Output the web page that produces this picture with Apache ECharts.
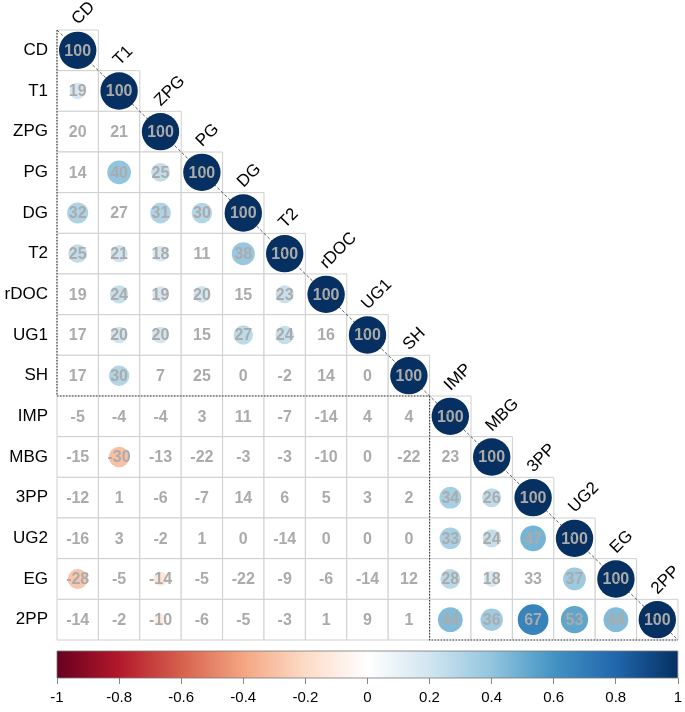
<!DOCTYPE html>
<html>
<head>
<meta charset="utf-8">
<script src="https://cdn.jsdelivr.net/npm/echarts@6/dist/echarts.min.js"></script>
<style>html,body{margin:0;padding:0;background:#fff}#c{width:685px;height:712px}</style>
</head>
<body>
<div id="c"></div>
<script>
// Variables (row / column order)
var variables = ['CD','T1','ZPG','PG','DG','T2','rDOC','UG1','SH','IMP','MBG','3PP','UG2','EG','2PP'];

// Lower-triangle correlation values (x100), row i has i entries (cols 0..i-1)
var rowT1   = [19];
var rowZPG  = [20, 21];
var rowPG   = [14, 40, 25];
var rowDG   = [32, 27, 31, 30];
var rowT2   = [25, 21, 18, 11, 38];
var rowrDOC = [19, 24, 19, 20, 15, 23];
var rowUG1  = [17, 20, 20, 15, 27, 24, 16];
var rowSH   = [17, 30, 7, 25, 0, -2, 14, 0];
var rowIMP  = [-5, -4, -4, 3, 11, -7, -14, 4, 4];
var rowMBG  = [-15, -30, -13, -22, -3, -3, -10, 0, -22, 23];
var row3PP  = [-12, 1, -6, -7, 14, 6, 5, 3, 2, 34, 26];
var rowUG2  = [-16, 3, -2, 1, 0, -14, 0, 0, 0, 33, 24, 47];
var rowEG   = [-28, -5, -14, -5, -22, -9, -6, -14, 12, 28, 18, 33, 37];
var row2PP  = [-14, -2, -10, -6, -5, -3, 1, 9, 1, 44, 36, 67, 53, 44];

// Significance flags (1 = circle drawn)
var sigT1   = [1];
var sigZPG  = [0, 0];
var sigPG   = [0, 1, 1];
var sigDG   = [1, 0, 1, 1];
var sigT2   = [1, 1, 1, 0, 1];
var sigrDOC = [0, 1, 1, 1, 0, 1];
var sigUG1  = [0, 1, 1, 0, 1, 1, 0];
var sigSH   = [0, 1, 0, 0, 0, 0, 0, 0];
var sigIMP  = [0, 0, 0, 0, 0, 0, 0, 0, 0];
var sigMBG  = [0, 1, 0, 0, 0, 0, 0, 0, 0, 0];
var sig3PP  = [0, 0, 0, 0, 0, 0, 0, 0, 0, 1, 1];
var sigUG2  = [0, 0, 0, 0, 0, 0, 0, 0, 0, 1, 1, 1];
var sigEG   = [1, 0, 1, 0, 0, 0, 0, 0, 0, 1, 1, 0, 1];
var sig2PP  = [0, 0, 1, 0, 0, 0, 0, 0, 0, 1, 1, 1, 1, 1];

var diagValue = 100;

// Cluster sizes (hierarchical clustering rectangles)
var clusterSizes = [9, 6];

// Colour bar ticks
var colorTicks = [-1, -0.8, -0.6, -0.4, -0.2, 0, 0.2, 0.4, 0.6, 0.8, 1];
var palette = ['#67001F','#B2182B','#D6604D','#F4A582','#FDDBC7','#FFFFFF','#D1E5F0','#92C5DE','#4393C3','#2166AC','#053061'];

var rows = [[], rowT1, rowZPG, rowPG, rowDG, rowT2, rowrDOC, rowUG1, rowSH, rowIMP, rowMBG, row3PP, rowUG2, rowEG, row2PP];
var sigs = [[], sigT1, sigZPG, sigPG, sigDG, sigT2, sigrDOC, sigUG1, sigSH, sigIMP, sigMBG, sig3PP, sigUG2, sigEG, sig2PP];

function hex2rgb(h){return [parseInt(h.substr(1,2),16),parseInt(h.substr(3,2),16),parseInt(h.substr(5,2),16)];}
function colorOf(r){
  var t = (r + 1) / 2 * (palette.length - 1);
  var i = Math.min(Math.floor(t), palette.length - 2);
  var f = t - i;
  var a = hex2rgb(palette[i]), b = hex2rgb(palette[i+1]);
  var c = a.map(function(v,k){return Math.round(v + (b[k]-v)*f);});
  return 'rgb(' + c.join(',') + ')';
}

var cellData = [], circleData = [], textData = [];
for (var i = 0; i < variables.length; i++) {
  for (var j = 0; j <= i; j++) {
    var v = (i === j) ? diagValue : rows[i][j];
    var s = (i === j) ? 1 : sigs[i][j];
    cellData.push([j, i]);
    textData.push([j, i, v]);
    if (s) circleData.push([j, i, v]);
  }
}
var labelData = variables.map(function(n, k){ return [k, k, n]; });

var chart = echarts.init(document.getElementById('c'), null, {renderer: 'canvas'});

function cellBox(api, x, y){
  var p = api.coord([x, y]);
  var s = api.size([1, 1]);
  return {cx: p[0], cy: p[1], w: s[0], h: s[1]};
}

var option = {
  animation: false,
  backgroundColor: '#fff',
  grid: [
    {left: 57, top: 30, width: 621, height: 610},
    {left: 57, top: 651, width: 622, height: 27}
  ],
  xAxis: [
    {type: 'category', data: variables, gridIndex: 0, show: false},
    {type: 'value', gridIndex: 1, min: -1, max: 1, interval: 0.2,
     axisLine: {show: false}, splitLine: {show: false},
     axisTick: {show: true, length: 6, lineStyle: {color: '#888'}},
     axisLabel: {color: '#000', fontSize: 15, margin: 12, fontFamily: 'Liberation Sans, Arial, sans-serif'}}
  ],
  yAxis: [
    {type: 'category', data: variables, gridIndex: 0, inverse: true,
     axisLine: {show: false}, axisTick: {show: false},
     axisLabel: {color: '#000', fontSize: 17, margin: 9, fontFamily: 'Liberation Sans, Arial, sans-serif'}},
    {type: 'value', gridIndex: 1, min: 0, max: 1, show: false}
  ],
  series: [
    {
      type: 'custom', xAxisIndex: 0, yAxisIndex: 0, data: cellData, z: 1,
      renderItem: function(params, api){
        var b = cellBox(api, api.value(0), api.value(1));
        return {type: 'rect', shape: {x: b.cx - b.w/2, y: b.cy - b.h/2, width: b.w, height: b.h},
          style: {fill: '#fff', stroke: '#cfcfcf', lineWidth: 1}};
      }
    },
    {
      type: 'custom', xAxisIndex: 0, yAxisIndex: 0, data: circleData, z: 2,
      renderItem: function(params, api){
        var b = cellBox(api, api.value(0), api.value(1));
        var v = api.value(2) / 100;
        var r = Math.sqrt(Math.abs(v)) * 0.46 * Math.min(b.w, b.h);
        return {type: 'circle', shape: {cx: b.cx, cy: b.cy, r: r}, style: {fill: colorOf(v)}};
      }
    },
    {
      type: 'custom', xAxisIndex: 0, yAxisIndex: 0, data: textData, z: 3,
      renderItem: function(params, api){
        var b = cellBox(api, api.value(0), api.value(1));
        return {type: 'text', x: b.cx, y: b.cy + 1, style: {text: String(api.value(2)), fill: '#ababab',
          font: 'bold 16px "Liberation Sans", Arial, sans-serif', align: 'center', verticalAlign: 'middle'}};
      }
    },
    {
      type: 'custom', xAxisIndex: 0, yAxisIndex: 0, data: labelData, z: 3,
      renderItem: function(params, api){
        var b = cellBox(api, api.value(0), api.value(1));
        return {type: 'text', x: b.cx + 3, y: b.cy - b.h/2 - 2, rotation: Math.PI/4,
          style: {text: variables[api.value(0)], fill: '#000', font: '17px "Liberation Sans", Arial, sans-serif',
            align: 'left', verticalAlign: 'bottom'}};
      }
    },
    {
      type: 'custom', xAxisIndex: 0, yAxisIndex: 0, data: [[0, variables.length - 1]], z: 4,
      renderItem: function(params, api){
        var a = cellBox(api, 0, 0);
        var e = cellBox(api, api.value(1), api.value(1));
        return {type: 'line', shape: {x1: a.cx - a.w/2, y1: a.cy - a.h/2, x2: e.cx + e.w/2, y2: e.cy + e.h/2},
          style: {stroke: '#333', lineWidth: 0.8, lineDash: [3, 2]}};
      }
    },
    {
      type: 'custom', xAxisIndex: 0, yAxisIndex: 0, z: 4,
      data: clusterSizes.map(function(sz, k){
        var start = 0; for (var q = 0; q < k; q++) start += clusterSizes[q];
        return [start, start + sz - 1];
      }),
      renderItem: function(params, api){
        var s = api.value(0), e = api.value(1);
        var a = cellBox(api, s, s);
        var z = cellBox(api, e, e);
        var x0 = a.cx - a.w/2, y0 = a.cy - a.h/2, x1 = z.cx + z.w/2, y1 = z.cy + z.h/2;
        return {type: 'polyline', shape: {points: [[x0, y0], [x0, y1], [x1, y1]]},
          style: {stroke: '#444', lineWidth: 1.2, lineDash: [1.5, 1.5], fill: null}};
      }
    },
    {
      type: 'custom', xAxisIndex: 1, yAxisIndex: 1, data: [[colorTicks[0], colorTicks[colorTicks.length-1]]], z: 2,
      renderItem: function(params, api){
        var p0 = api.coord([api.value(0), 1]);
        var p1 = api.coord([api.value(1), 0]);
        var stops = palette.map(function(c, k){ return {offset: k/(palette.length-1), color: c}; });
        return {type: 'rect', shape: {x: p0[0], y: p0[1], width: p1[0]-p0[0], height: p1[1]-p0[1]},
          style: {fill: new echarts.graphic.LinearGradient(0, 0, 1, 0, stops), stroke: '#777', lineWidth: 0.8}};
      }
    }
  ]
};
chart.setOption(option);
</script>
</body>
</html>
